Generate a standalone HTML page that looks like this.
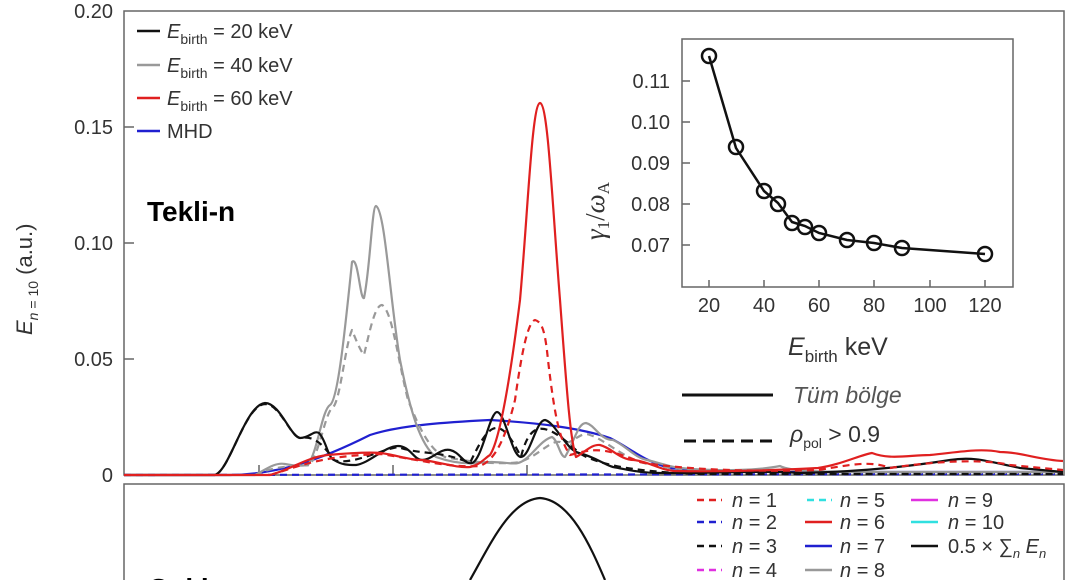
<!DOCTYPE html>
<html><head><meta charset="utf-8"><style>
body{margin:0;background:#fff}
svg{display:block;font-family:"Liberation Sans",sans-serif}
</style></head><body>
<svg width="1068" height="580" viewBox="0 0 1068 580">
<rect x="124" y="11" width="940" height="464" fill="none" stroke="#666" stroke-width="1.5"/>
<g stroke="#666" stroke-width="1.5">
<line x1="124" y1="127" x2="134" y2="127"/><line x1="124" y1="243" x2="134" y2="243"/><line x1="124" y1="359" x2="134" y2="359"/>
<line x1="259" y1="475" x2="259" y2="465"/><line x1="393" y1="475" x2="393" y2="465"/><line x1="527" y1="475" x2="527" y2="465"/>
</g>
<g font-size="20" fill="#333" text-anchor="end">
<text x="113" y="18">0.20</text><text x="113" y="134">0.15</text><text x="113" y="250">0.10</text><text x="113" y="366">0.05</text><text x="113" y="482">0</text>
</g>
<text transform="translate(32,335) rotate(-90)" font-size="22" fill="#333"><tspan font-style="italic">E</tspan><tspan font-size="14" dy="6" font-style="italic">n</tspan><tspan font-size="14"> = 10</tspan><tspan dy="-6"> (a.u.)</tspan></text>
<g font-size="20" fill="#333">
<line x1="137" y1="31" x2="160" y2="31" stroke="#111" stroke-width="2.5"/>
<text x="167" y="38"><tspan font-style="italic">E</tspan><tspan font-size="14" dy="6">birth</tspan><tspan dy="-6"> = 20 keV</tspan></text>
<line x1="137" y1="65" x2="160" y2="65" stroke="#999" stroke-width="2.5"/>
<text x="167" y="72"><tspan font-style="italic">E</tspan><tspan font-size="14" dy="6">birth</tspan><tspan dy="-6"> = 40 keV</tspan></text>
<line x1="137" y1="98" x2="160" y2="98" stroke="#e02020" stroke-width="2.5"/>
<text x="167" y="105"><tspan font-style="italic">E</tspan><tspan font-size="14" dy="6">birth</tspan><tspan dy="-6"> = 60 keV</tspan></text>
<line x1="137" y1="131" x2="160" y2="131" stroke="#2020d0" stroke-width="2.5"/>
<text x="167" y="138">MHD</text>
</g>
<text x="147" y="221" font-size="28" font-weight="bold" fill="#000">Tekli-n</text>
<g fill="none" stroke-width="2.2" stroke-linejoin="round">
<path stroke="#2020d0" d="M124,475 L230,475 C280,474 320,460 370,435 C400,425 450,422 490,420 C540,423 580,428 610,438 C630,448 645,462 670,468 C700,472 740,472 800,472 L1063,472"/>
<path stroke="#2020d0" stroke-dasharray="7,5" d="M124,475 L1063,474"/>
<path stroke="#999" d="M124,475 L255,475 C265,470 275,462 285,464 C295,466 300,466 308,465 C318,450 322,410 330,405 C338,400 345,330 352,262 C358,255 360,300 364,298 C370,270 372,206 376,206 C385,210 390,300 400,360 C410,410 420,445 436,457 C450,462 465,464 477,463 C500,460 510,465 518,463 C530,460 540,440 552,437 C558,440 560,457 565,457 C575,440 578,423 586,423 C595,425 600,440 613,440 C625,445 635,458 647,460 C660,463 670,467 681,468 C720,472 760,470 780,466 C790,472 830,472 880,472 L1063,472"/>
<path stroke="#999" stroke-dasharray="7,5" d="M255,475 C275,465 300,466 310,465 C320,450 325,415 332,408 C340,405 345,345 352,330 C356,340 360,350 364,355 C370,330 375,305 382,305 C392,310 398,360 408,400 C420,430 430,450 445,457 C470,462 500,465 520,462 C540,455 550,440 560,442 C570,448 580,430 590,435 C605,440 620,455 640,462 C660,468 690,470 720,472 L1063,473"/>
<path stroke="#111" d="M124,475 L215,475 C230,470 245,405 265,403 C280,403 290,436 300,438 C310,438 313,430 319,433 C326,440 328,458 334,460 C342,465 348,465 356,465 C370,463 385,446 398,446 C410,446 414,460 422,460 C432,460 440,448 450,450 C460,452 464,465 472,463 C482,460 490,412 497,412 C505,412 512,457 521,457 C530,457 536,420 545,420 C555,422 566,450 579,453 C595,457 605,465 613,467 C630,470 640,473 660,473 C700,474 760,470 800,473 C850,472 900,468 950,460 C975,456 990,462 1020,468 L1063,472"/>
<path stroke="#111" stroke-dasharray="7,5" d="M215,475 C230,470 245,405 265,404 C280,404 290,436 300,438 C312,436 320,440 334,460 C350,466 380,450 398,447 C420,455 440,450 470,463 C490,420 500,415 521,457 C530,420 545,420 579,453 C600,466 640,472 700,474 L1063,474"/>
<path stroke="#e02020" d="M124,475 L270,475 C290,470 305,458 327,455 C350,453 370,452 381,453 C400,456 410,460 422,460 C440,462 455,468 470,467 C480,465 485,458 490,455 C500,440 510,380 520,300 C528,210 532,104 540,103 C548,104 552,200 560,300 C566,380 570,440 576,457 C585,452 592,444 600,445 C612,448 620,460 634,460 C650,462 660,470 674,471 C720,472 780,470 818,468 C840,465 860,455 872,453 C890,460 910,455 930,455 C960,452 980,448 1000,452 C1020,452 1040,460 1063,461"/>
<path stroke="#e02020" stroke-dasharray="7,5" d="M270,475 C300,466 320,456 381,454 C420,460 450,468 480,466 C495,460 505,440 515,400 C522,350 528,322 535,320 C542,322 545,330 548,360 C555,420 560,440 570,455 C590,450 600,445 640,462 C680,470 760,472 818,470 C850,465 870,460 890,468 C930,462 980,458 1010,465 L1063,470"/>
</g>
<line x1="682" y1="395" x2="773" y2="395" stroke="#111" stroke-width="3"/>
<text x="793" y="403" font-size="23" font-style="italic" fill="#555">Tüm bölge</text>
<line x1="684" y1="441" x2="773" y2="441" stroke="#111" stroke-width="3" stroke-dasharray="12,7"/>
<text x="790" y="442" font-size="23" fill="#333"><tspan font-style="italic">ρ</tspan><tspan font-size="14" dy="6">pol</tspan><tspan dy="-6"> &gt; 0.9</tspan></text>
<rect x="682" y="39" width="331" height="248" fill="#fff" stroke="#666" stroke-width="1.5"/>
<g stroke="#666" stroke-width="1.5">
<line x1="682" y1="81" x2="690" y2="81"/><line x1="682" y1="122" x2="690" y2="122"/><line x1="682" y1="163" x2="690" y2="163"/><line x1="682" y1="204" x2="690" y2="204"/><line x1="682" y1="245" x2="690" y2="245"/>
<line x1="709" y1="287" x2="709" y2="280"/><line x1="764" y1="287" x2="764" y2="280"/><line x1="819" y1="287" x2="819" y2="280"/><line x1="874" y1="287" x2="874" y2="280"/><line x1="930" y1="287" x2="930" y2="280"/><line x1="985" y1="287" x2="985" y2="280"/>
</g>
<g font-size="20" fill="#333" text-anchor="end">
<text x="670" y="88">0.11</text><text x="670" y="129">0.10</text><text x="670" y="170">0.09</text><text x="670" y="211">0.08</text><text x="670" y="252">0.07</text>
</g>
<g font-size="20" fill="#333" text-anchor="middle">
<text x="709" y="312">20</text><text x="764" y="312">40</text><text x="819" y="312">60</text><text x="874" y="312">80</text><text x="930" y="312">100</text><text x="985" y="312">120</text>
</g>
<text x="788" y="355" font-size="25" fill="#333"><tspan font-style="italic">E</tspan><tspan font-size="17" dy="7">birth</tspan><tspan dy="-7"> keV</tspan></text>
<text transform="translate(604,240) rotate(-90)" font-size="27" fill="#333" font-family="Liberation Serif,serif"><tspan font-style="italic">γ</tspan><tspan font-size="17" dy="5">1</tspan><tspan dy="-5">/</tspan><tspan font-style="italic">ω</tspan><tspan font-size="17" dy="5">A</tspan></text>
<polyline fill="none" stroke="#111" stroke-width="2.5" points="709,56 736,148 764,191 778,203 792,222 805,226 819,233 847,240 874,243 902,248 985,254"/>
<g fill="none" stroke="#111" stroke-width="2.5">
<circle cx="709" cy="56" r="7"/><circle cx="736" cy="147" r="7"/><circle cx="764" cy="191" r="7"/><circle cx="778" cy="204" r="7"/><circle cx="792" cy="223" r="7"/><circle cx="805" cy="227" r="7"/><circle cx="819" cy="233" r="7"/><circle cx="847" cy="240" r="7"/><circle cx="874" cy="243" r="7"/><circle cx="902" cy="248" r="7"/><circle cx="985" cy="254" r="7"/>
</g>
<rect x="124" y="484" width="940" height="110" fill="none" stroke="#666" stroke-width="1.5"/>
<path fill="none" stroke="#111" stroke-width="2.2" d="M470,580 C490,545 510,500 540,498 C570,500 590,545 605,580"/>
<text x="148" y="598" font-size="28" font-weight="bold" fill="#000">Çoklu-n</text>
<g font-size="20" fill="#333" font-style="italic">
<line x1="697" y1="500" x2="722" y2="500" stroke="#e02020" stroke-width="2.5" stroke-dasharray="7,5"/><text x="732" y="507">n <tspan font-style="normal">= 1</tspan></text>
<line x1="697" y1="522" x2="722" y2="522" stroke="#2020d0" stroke-width="2.5" stroke-dasharray="7,5"/><text x="732" y="529">n <tspan font-style="normal">= 2</tspan></text>
<line x1="697" y1="546" x2="722" y2="546" stroke="#111" stroke-width="2.5" stroke-dasharray="7,5"/><text x="732" y="553">n <tspan font-style="normal">= 3</tspan></text>
<line x1="697" y1="570" x2="722" y2="570" stroke="#e030e0" stroke-width="2.5" stroke-dasharray="7,5"/><text x="732" y="577">n <tspan font-style="normal">= 4</tspan></text>
<line x1="807" y1="500" x2="832" y2="500" stroke="#30e0e0" stroke-width="2.5" stroke-dasharray="7,5"/><text x="840" y="507">n <tspan font-style="normal">= 5</tspan></text>
<line x1="805" y1="522" x2="832" y2="522" stroke="#e02020" stroke-width="2.5"/><text x="840" y="529">n <tspan font-style="normal">= 6</tspan></text>
<line x1="805" y1="546" x2="832" y2="546" stroke="#2020d0" stroke-width="2.5"/><text x="840" y="553">n <tspan font-style="normal">= 7</tspan></text>
<line x1="805" y1="570" x2="832" y2="570" stroke="#999" stroke-width="2.5"/><text x="840" y="577">n <tspan font-style="normal">= 8</tspan></text>
<line x1="911" y1="500" x2="938" y2="500" stroke="#e030e0" stroke-width="2.5"/><text x="948" y="507">n <tspan font-style="normal">= 9</tspan></text>
<line x1="911" y1="522" x2="938" y2="522" stroke="#30e0e0" stroke-width="2.5"/><text x="948" y="529">n <tspan font-style="normal">= 10</tspan></text>
<line x1="911" y1="546" x2="938" y2="546" stroke="#111" stroke-width="2.5"/><text x="948" y="553" font-style="normal">0.5 × ∑<tspan font-size="13" dy="5" font-style="italic">n</tspan><tspan dy="-5" font-style="italic"> E</tspan><tspan font-size="13" dy="5" font-style="italic">n</tspan></text>
</g>
</svg>
</body></html>
